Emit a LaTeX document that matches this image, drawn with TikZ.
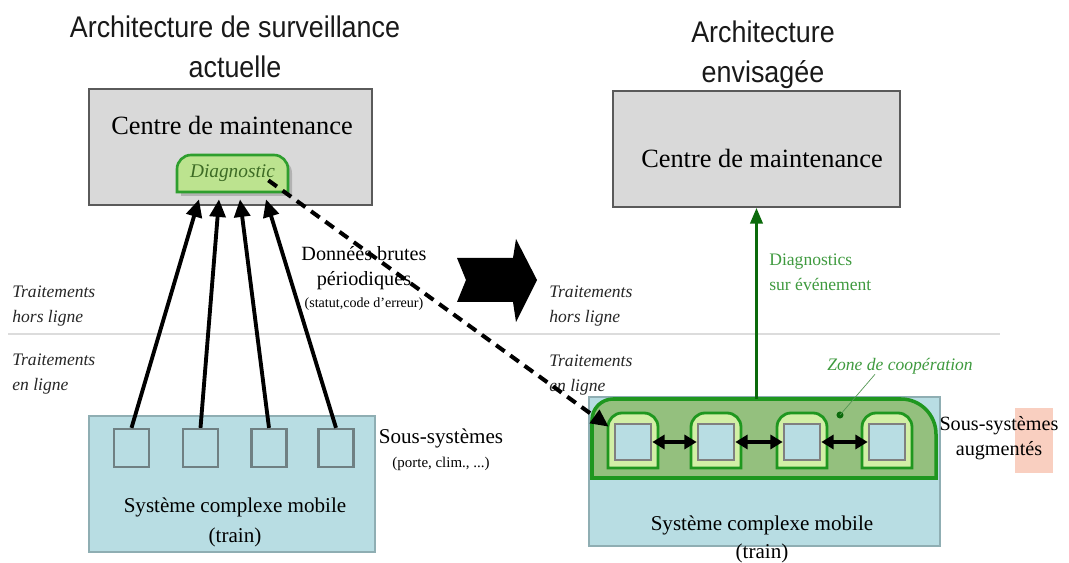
\documentclass[tikz,border=0pt]{standalone}
\usepackage{fontspec}
\setmainfont{Liberation Serif}
\setsansfont{Liberation Sans}
\newfontfamily\titlefont[FakeStretch=0.9]{Liberation Sans}
\usetikzlibrary{arrows.meta,calc}

\definecolor{boxgray}{HTML}{D9D9D9}
\definecolor{edgegray}{HTML}{5A5A5A}
\definecolor{trainblue}{HTML}{B8DDE3}
\definecolor{trainedge}{HTML}{8FAEB3}
\definecolor{subedge}{HTML}{6F8083}
\definecolor{diagfill}{HTML}{BCE38F}
\definecolor{diagedge}{HTML}{2E9E2E}
\definecolor{diagtext}{HTML}{3D6B25}
\definecolor{zonefill}{HTML}{94C07E}
\definecolor{zoneedge}{HTML}{1F971F}
\definecolor{darkgreen}{HTML}{0B6A0B}
\definecolor{textgreen}{HTML}{3F9A3F}
\definecolor{archfill}{HTML}{D2EFA6}
\definecolor{pinkmark}{HTML}{F9CFC0}
\definecolor{sepgray}{HTML}{DCDCDC}

\newcommand{\upx}{0.02cm}

\begin{document}
\begin{tikzpicture}[x=0.02cm, y=-0.02cm, inner sep=0pt,
  title/.style={font=\titlefont\fontsize{17}{23}\selectfont, align=center, text=black!90},
  centre/.style={draw=edgegray, line width=1pt, fill=boxgray},
  train/.style={draw=trainedge, line width=1pt, fill=trainblue},
  subsys/.style={draw=subedge, line width=1.3pt, minimum width=35*\upx, minimum height=38*\upx},
  proc/.style={font=\itshape\fontsize{10}{14}\selectfont, align=left, anchor=west, text=black!85},
  up/.style={-{Triangle[length=10pt,width=9pt]}, line width=2.2pt},
  dbl/.style={{Triangle[length=7pt,width=8pt]}-{Triangle[length=7pt,width=8pt]}, line width=2.4pt}]
  \useasboundingbox (0,0) rectangle (1069,563);

  % titles
  \node[title] (tL) at (235,47) {Architecture de surveillance\\actuelle};
  \node[title] (tR) at (763,55) {Architecture\\envisagée};

  % separation hors ligne / en ligne
  \draw[sepgray, line width=1.2pt] (8,334) -- (1000,334);
  \node[proc] (hlL) at (12,306) {Traitements\\hors ligne};
  \node[proc] (elL) at (12,374) {Traitements\\en ligne};
  \node[proc] (hlR) at (549,306) {Traitements\\hors ligne};
  \node[proc] (elR) at (549,375) {Traitements\\en ligne};

  % left: current architecture
  \node[centre, minimum width=283*\upx, minimum height=116*\upx] (cmL) at (230.5,147) {};
  \node[font=\fontsize{15}{18}\selectfont] (cmLtxt) at (232,125) {Centre de maintenance};
  \fill[black!30] (181,196) -- ([yshift=-8pt]181,159)
    arc[start angle=180, end angle=90, radius=8pt] -- ([xshift=-8pt]292,159)
    arc[start angle=90, end angle=0, radius=8pt] -- (292,196) -- cycle;
  \draw[diagedge, line width=1.5pt, fill=diagfill] (177,192) -- ([yshift=-8pt]177,155)
    arc[start angle=180, end angle=90, radius=8pt] -- ([xshift=-8pt]288,155)
    arc[start angle=90, end angle=0, radius=8pt] -- (288,192) -- cycle;
  \node[font=\itshape\fontsize{11}{13}\selectfont, text=diagtext,
    minimum width=111*\upx, minimum height=37*\upx] (diag) at (232.5,173.5) {Diagnostic};

  \node[train, minimum width=286*\upx, minimum height=136*\upx] (trL) at (232,484) {};
  \foreach \i/\x in {1/131.5,2/200.5,3/269,4/336}
    \node[subsys] (s\i) at (\x,448) {};
  \node[font=\fontsize{12}{17}\selectfont, align=center] (trLtxt) at (235,522) {Système complexe mobile\\(train)};
  \node[font=\fontsize{12}{14}\selectfont] (ssL) at (441,438) {Sous-systèmes};
  \node[font=\fontsize{8.5}{10}\selectfont] (ssLd) at (441,464) {(porte, clim., ...)};

  \foreach \i/\dx in {1/-33.5,2/-13.5,3/7.5,4/33.5}
    \draw[up] (s\i.north) -- ($(diag.south)+(\dx,7)$);

  \node[font=\fontsize{11.5}{14}\selectfont, align=center] (donnees) at (364,268) {Données brutes\\périodiques};
  \node[font=\fontsize{8}{9}\selectfont] (statut) at (364,304) {(statut,code d'erreur)};

  % big arrow
  \fill (457,258) -- (513,258) -- (516,239) -- (537,280) -- (516,322) -- (513,302)
    -- (457,302) -- (466,280) -- cycle;

  % right: planned architecture
  \node[centre, minimum width=287*\upx, minimum height=116*\upx] (cmR) at (756.5,149) {};
  \node[font=\fontsize{15}{18}\selectfont] (cmRtxt) at (762,158) {Centre de maintenance};

  \node[train, minimum width=351*\upx, minimum height=149*\upx] (trR) at (764.5,471.5) {};
  \draw[zoneedge, line width=2pt, fill=zonefill] (592,478) -- ([yshift=-12pt]592,399)
    arc[start angle=180, end angle=90, radius=12pt] -- ([xshift=-20pt]936,399)
    arc[start angle=90, end angle=0, radius=20pt] -- (936,478) -- cycle;
  \coordinate (zonetop) at (756.5,399);

  \foreach \x/\i in {633/1,716/2,802/3,887/4}{
    \draw[zoneedge, line width=1.6pt, fill=archfill] (\x-25,468) -- ([yshift=-8pt]\x-25,413)
      arc[start angle=180, end angle=90, radius=8pt] -- ([xshift=-8pt]\x+25,413)
      arc[start angle=90, end angle=0, radius=8pt] -- (\x+25,468) -- cycle;
    \node[draw=gray, line width=1.5pt, fill=trainblue, minimum width=36*\upx, minimum height=36*\upx] (m\i) at (\x,442) {};
  }
  \foreach \a/\b in {1/2,2/3,3/4}
    \draw[dbl] (m\a.east) -- (m\b.west);

  \node[font=\fontsize{12}{15.5}\selectfont, align=center] (trRtxt) at (762,539.5) {Système complexe mobile\\(train)};
  \fill[pinkmark] (1015,408) rectangle (1053,473);
  \node[font=\fontsize{11.5}{14.2}\selectfont, align=center] (ssR) at (999,438.5) {Sous-systèmes\\augmentés};

  \coordinate (zdot) at (840,415);
  \fill[darkgreen] (zdot) circle (2pt);
  \node[font=\itshape\fontsize{10}{12}\selectfont, text=textgreen] (zlbl) at (900,366) {Zone de coopération};
  \draw[darkgreen!70, thin] (zdot) -- ($(zlbl.south)+(-25,0)$);

  \draw[darkgreen, line width=1.8pt, -{Triangle[length=9pt,width=7pt]}] (zonetop) -- (cmR.south);
  \node[font=\fontsize{10}{14.2}\selectfont, text=textgreen, align=left, anchor=west] (diagev) at (769,272) {Diagnostics\\sur événement};

  % raw data to the augmented subsystems
  \draw[line width=2.3pt, dash pattern=on 6pt off 4pt, -{Triangle[length=10pt,width=9pt]}]
    ($(diag.south east)+(-20,-12)$) -- ($(m1.north west)+(-5,4)$);
\end{tikzpicture}
\end{document}
